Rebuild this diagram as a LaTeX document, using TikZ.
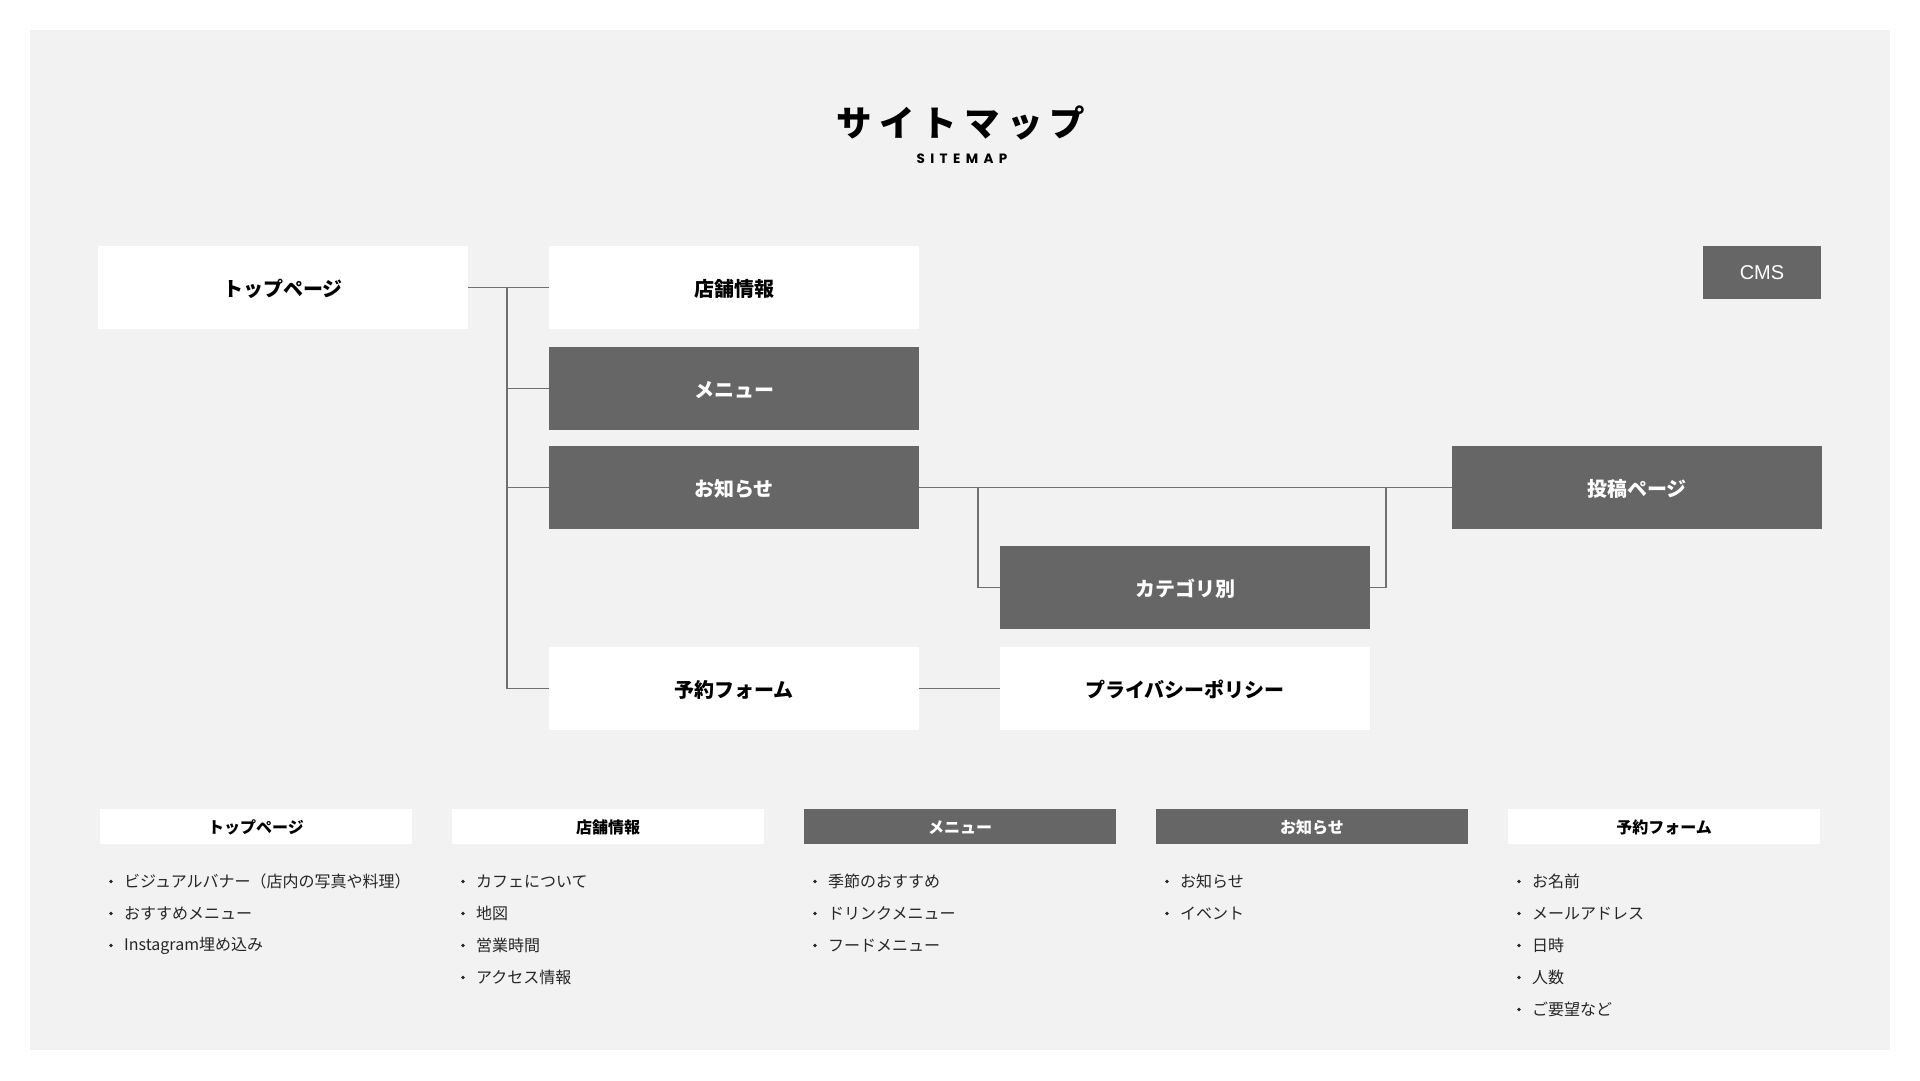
\documentclass[tikz,border=0pt]{standalone}
\usepackage{fontspec}
\setmainfont{Noto Sans CJK JP}
\newfontfamily\titlefont{Noto Sans CJK JP}[LetterSpace=20]
\newfontfamily\latinfont{Liberation Sans}
\newfontfamily\popfont{Poppins}[LetterSpace=40]
\definecolor{bg}{HTML}{F2F2F2}
\definecolor{dk}{HTML}{666666}
\definecolor{ln}{HTML}{707070}
\definecolor{itm}{HTML}{262626}
\begin{document}
\begin{tikzpicture}[x=1pt,y=-1pt,
  wbox/.style={fill=white, minimum width=370pt, minimum height=83pt, inner sep=0pt, outer sep=0pt, anchor=north west, font=\fontsize{20}{24}\selectfont\bfseries, text=black, text height=17pt, text depth=0pt},
  dbox/.style={wbox, fill=dk, text=white},
  conn/.style={draw=ln, line width=1.3pt},
  hw/.style={fill=white, minimum width=312pt, minimum height=35pt, inner sep=0pt, outer sep=0pt, anchor=north west, font=\fontsize{16}{19}\selectfont\bfseries, text=black, text height=14pt, text depth=0pt},
  hd/.style={hw, fill=dk, text=white},
  item/.style={anchor=west, inner sep=0pt, font=\fontsize{16}{19}\selectfont, text=itm},
]
\fill[white] (0,0) rectangle (1920,1080);
\fill[bg] (30,30) rectangle (1890,1050);
\useasboundingbox (0,0) rectangle (1920,1080);

% title
\node (title) at (961,123) {\titlefont\bfseries\fontsize{35.5}{42}\selectfont サイトマップ};
\node (sub) at (962,159) {\popfont\bfseries\fontsize{13.5}{15}\selectfont SITEMAP};

% sitemap boxes
\node[wbox] (top) at (98,246) {トップページ};
\node[wbox] (store) at (549,246) {店舗情報};
\node[dbox] (menu) at (549,347) {メニュー};
\node[dbox] (news) at (549,446) {お知らせ};
\node[dbox] (cat) at (1000,546) {カテゴリ別};
\node[dbox] (post) at (1452,446) {投稿ページ};
\node[wbox] (form) at (549,647) {予約フォーム};
\node[wbox] (priv) at (1000,647) {プライバシーポリシー};
\node[dbox, minimum width=118pt, minimum height=53pt, font=\latinfont\fontsize{20}{24}\selectfont, text height=14.5pt] (cms) at (1703,246) {CMS};

% connectors
\draw[conn] (top.east) -- (store.west);
\draw[conn] ([xshift=39pt]top.east) |- (menu.west);
\draw[conn] ([xshift=39pt]top.east) |- (news.west);
\draw[conn] ([xshift=39pt]top.east) |- (form.west);
\draw[conn] (news.east) -- (post.west);
\draw[conn] ([xshift=59pt]news.east) |- (cat.west);
\draw[conn] ([xshift=-66pt]post.west) |- (cat.east);
\draw[conn] (form.east) -- (priv.west);

% bottom headers
\node[hw] (h1) at (100,809) {トップページ};
\node[hw] (h2) at (452,809) {店舗情報};
\node[hd] (h3) at (804,809) {メニュー};
\node[hd] (h4) at (1156,809) {お知らせ};
\node[hw] (h5) at (1508,809) {予約フォーム};

% items
\foreach \t [count=\i] in {ビジュアルバナー（店内の写真や料理）, おすすめメニュー, Instagram埋め込み} {
  \node[item] (a\i) at (124,849.5+32*\i) {\t};
  \fill[itm] ([xshift=-13pt]a\i.west) circle (1.9pt);
}
\foreach \t [count=\i] in {カフェについて, 地図, 営業時間, アクセス情報} {
  \node[item] (b\i) at (476,849.5+32*\i) {\t};
  \fill[itm] ([xshift=-13pt]b\i.west) circle (1.9pt);
}
\foreach \t [count=\i] in {季節のおすすめ, ドリンクメニュー, フードメニュー} {
  \node[item] (c\i) at (828,849.5+32*\i) {\t};
  \fill[itm] ([xshift=-13pt]c\i.west) circle (1.9pt);
}
\foreach \t [count=\i] in {お知らせ, イベント} {
  \node[item] (d\i) at (1180,849.5+32*\i) {\t};
  \fill[itm] ([xshift=-13pt]d\i.west) circle (1.9pt);
}
\foreach \t [count=\i] in {お名前, メールアドレス, 日時, 人数, ご要望など} {
  \node[item] (e\i) at (1532,849.5+32*\i) {\t};
  \fill[itm] ([xshift=-13pt]e\i.west) circle (1.9pt);
}
\end{tikzpicture}
\end{document}
